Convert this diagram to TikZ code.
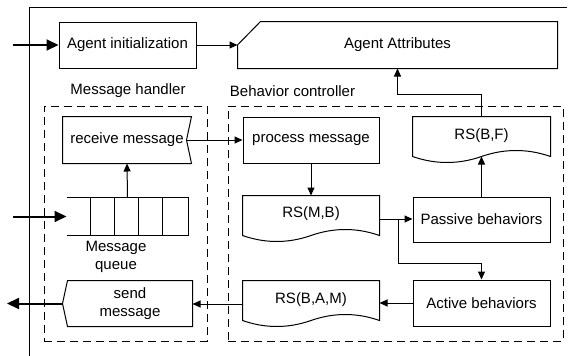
\documentclass[tikz,border=0pt]{standalone}
\usepackage{fontspec}
\setmainfont{Liberation Sans}
\usetikzlibrary{arrows.meta,calc}

% outline of a document shape: straight top and sides, wavy bottom
\newcommand{\docoutline}[1]{%
  \draw[outline] (#1.north west) -- (#1.north east) -- ($(#1.north east)+(0,40)$)
    .. controls ($(#1.north west)!0.8333!(#1.north east)+(0,32)$)
       and ($(#1.north west)!0.6667!(#1.north east)+(0,32)$) .. ($(#1.north)+(0,40)$)
    .. controls ($(#1.north west)!0.3333!(#1.north east)+(0,48)$)
       and ($(#1.north west)!0.1667!(#1.north east)+(0,48)$) .. ($(#1.north west)+(0,40)$)
    -- cycle;}

\begin{document}
\begin{tikzpicture}[x=1pt,y=-1pt,
  font=\fontsize{15}{18}\selectfont,
  line width=1pt,
  box/.style={draw, rectangle, inner sep=0pt, align=center},
  plain/.style={draw=none, rectangle, inner sep=0pt, align=center},
  outline/.style={draw, line join=miter},
  group/.style={draw, rectangle, inner sep=0pt, dash pattern=on 8pt off 5pt},
  flow/.style={-{Triangle[length=8pt,width=7pt]}},
  io/.style={line width=2pt, -{Triangle[length=12pt,width=11pt]}},
]
\useasboundingbox (0,0) rectangle (571,356);

% outer frame
\draw (29,356) -- (29,7) -- (567,7);

% top row
\node[box, minimum width=137pt, minimum height=46pt] (init) at (127.5,45) {Agent initialization};
\node[plain, minimum width=319pt, minimum height=46pt] (attr) at (397.5,45) {Agent Attributes};
\draw[outline] (attr.west) -- ($(attr.north west)+(23,0)$) -- (attr.north east)
  -- (attr.south east) -- (attr.south west) -- cycle;

% group titles and dashed groups
\node[plain] (mh-label) at (128,91) {Message handler};
\node[plain] (bc-label) at (292.5,91) {Behavior controller};
\node[group, minimum width=163pt, minimum height=235pt] (mh) at (125.5,223.5) {};
\node[group, minimum width=335pt, minimum height=235pt] (bc) at (395.5,223.5) {};

% message handler
\node[plain, minimum width=128pt, minimum height=46pt] (recv) at (127,140) {receive message};
\draw[outline] (recv.north west) -- (recv.north east) -- ($(recv.east)+(-5,0)$) coordinate (recv-notch)
  -- (recv.south east) -- (recv.south west) -- cycle;

\node[plain, minimum width=121pt, minimum height=37pt] (queue) at (127.5,216.5) {};
\draw[outline] (queue.north west) -- (queue.north east) -- (queue.south east) -- (queue.south west);
\foreach \i in {1,...,4}
  \draw ($(queue.north west)+(24*\i,0)$) -- ($(queue.south west)+(24*\i,0)$);
\node[plain] (queue-label) at (116,257) {Message\\queue};

\node[plain, minimum width=124pt, minimum height=45pt] (send) at (130,303.5) {send\\message};
\draw[outline] (send.north west) -- (send.north east) -- (send.south east) -- (send.south west)
  -- ($(send.west)+(-5,0)$) coordinate (send-tip) -- cycle;

% behavior controller
\node[box, minimum width=136pt, minimum height=46pt] (proc) at (311,140) {process message};

\node[plain, minimum width=137pt, minimum height=46pt] (rsbf) at (481.5,140) {};
\docoutline{rsbf}
\node[plain] (rsbf-text) at ($(rsbf.center)+(0,-4)$) {RS(B,F)};

\node[plain, minimum width=136pt, minimum height=46pt] (rsmb) at (311,219) {};
\docoutline{rsmb}
\node[plain] (rsmb-text) at ($(rsmb.center)+(0,-5)$) {RS(M,B)};

\node[box, minimum width=137pt, minimum height=45pt] (passive) at (481.5,219.5) {Passive behaviors};
\node[box, minimum width=137pt, minimum height=46pt] (active) at (481.5,303) {Active behaviors};

\node[plain, minimum width=136pt, minimum height=46pt] (rsbam) at (311,304) {};
\docoutline{rsbam}
\node[plain] (rsbam-text) at ($(rsbam.center)+(0,-4)$) {RS(B,A,M)};

% connectors
\coordinate (init-src) at (13,45);
\coordinate (queue-src) at (13,216.5);
\coordinate (send-dst) at (7,303.5);

\draw[io] (init-src) -- (init.west);
\draw[flow] (init.east) -- (attr.west);
\draw[flow] (recv-notch) -- (proc.west);
\draw[flow] (queue.north) -- (recv.south);
\draw[io] (queue-src) -- (queue.west);
\draw[flow] (proc.south) -- (rsmb.north);
\draw[flow] (rsmb.east) -- (rsmb.east -| passive.west);
\coordinate (split) at ($(rsmb.east)+(19,0)$);
\draw[flow] (split) -- ++(0,44) -| (active.north);
\draw[flow] (active.west) -- (active.west -| rsbam.east);
\draw[flow] (rsbam.west) -- (rsbam.west -| send.east);
\draw[io] (send-tip) -- (send-dst);
\draw[flow] (passive.north) -- ($(rsbf.north)+(0,40)$);
\draw[flow] (rsbf.north) -- ++(0,-22) -| (attr.south);
\end{tikzpicture}
\end{document}
